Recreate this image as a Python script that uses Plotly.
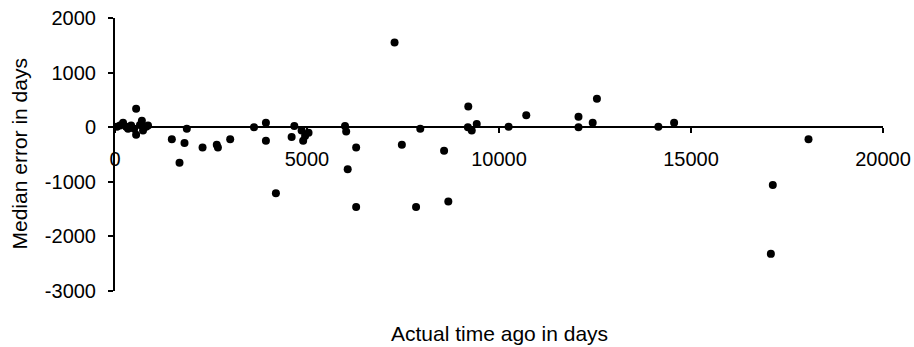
import plotly.graph_objects as go

actual_days = [50, 130, 210, 290, 340, 420, 500, 550, 550, 650, 700, 730, 810, 860,
               1480, 1680, 1810, 1870, 2280, 2650, 2680, 3000, 3620, 3930, 3930, 4190,
               4600, 4670, 4860, 4900, 4950, 5040, 5990, 6020, 6060, 6280, 6280, 7280,
               7470, 7840, 7950, 8570, 8680, 9200, 9190, 9290, 9420, 10250, 10710, 12070,
               12070, 12440, 12550, 14150, 14560, 17080, 17130, 18060]
median_error = [10, 30, 80, 10, -30, 30, -30, 340, -140, 40, 120, -60, 10, 30,
                -220, -650, -290, -30, -370, -320, -370, -220, 0, 80, -250, -1210,
                -180, 20, -60, -250, -160, -100, 20, -80, -770, -370, -1460, 1550,
                -320, -1460, -30, -430, -1360, 380, 0, -60, 60, 10, 220, 190,
                0, 80, 520, 10, 80, -2320, -1060, -220]

x_ticks = [0, 5000, 10000, 15000, 20000]
y_ticks = [-3000, -2000, -1000, 0, 1000, 2000]

x_title = "Actual time ago in days"
y_title = "Median error in days"

FONT = "Liberation Sans, Arial, sans-serif"

fig = go.Figure()
fig.add_trace(go.Scatter(
    x=actual_days, y=median_error, mode="markers",
    marker=dict(symbol="circle", size=8, color="black", line=dict(width=0)),
    showlegend=False, hoverinfo="x+y"))

fig.update_layout(
    width=914, height=347,
    margin=dict(l=115, r=31, t=18, b=56),
    paper_bgcolor="white", plot_bgcolor="white",
    font=dict(family=FONT, size=20, color="black"),
    xaxis=dict(
        range=[0, 20000], tickvals=x_ticks, ticktext=[str(v) for v in x_ticks],
        showgrid=False, zeroline=False, showline=True, linecolor="black", linewidth=2,
        ticks="outside", ticklen=5, tickwidth=2, tickcolor="black",
        anchor="free", position=0.6, ticklabelstandoff=9, automargin=False,
        tickfont=dict(family=FONT, size=20, color="black")),
    yaxis=dict(
        range=[-3000, 2000], tickvals=y_ticks, ticktext=[str(v) for v in y_ticks],
        showgrid=False, zeroline=False, showline=True, linecolor="black", linewidth=2,
        ticks="outside", ticklen=5, tickwidth=2, tickcolor="black",
        ticklabelstandoff=8, automargin=False,
        tickfont=dict(family=FONT, size=20, color="black")),
    annotations=[
        dict(text=x_title, xref="paper", yref="paper", x=0.5, y=-0.155,
             xanchor="center", yanchor="middle", showarrow=False,
             font=dict(family=FONT, size=21, color="black")),
        dict(text=y_title, xref="paper", yref="paper", x=-0.125, y=0.5,
             xanchor="center", yanchor="middle", textangle=-90, showarrow=False,
             font=dict(family=FONT, size=21, color="black")),
    ],
)

fig.write_html("out.html", config={"displayModeBar": False},
               post_script="document.body.style.margin='0';document.body.style.overflow='hidden';")
